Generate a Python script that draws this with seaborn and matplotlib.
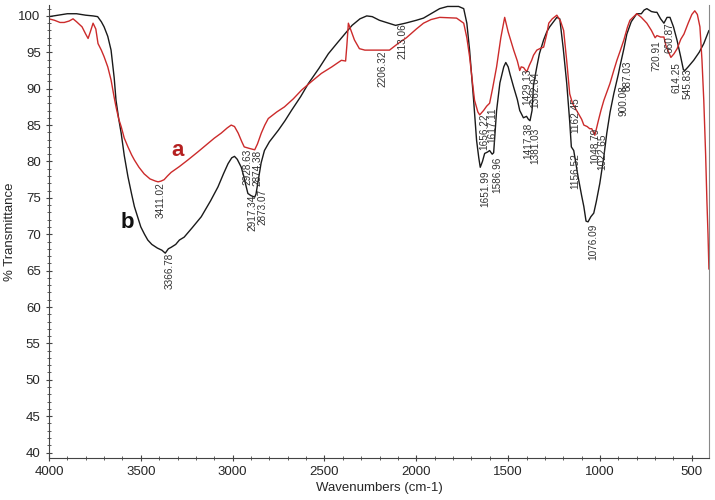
import pandas as pd
import seaborn as sns
import matplotlib.pyplot as plt
from matplotlib.ticker import MultipleLocator

# Curve b (black) - wavenumber / %T
wn_b = [4000, 3950, 3900, 3850, 3800, 3760, 3735, 3715, 3700, 3680, 3662, 3645, 3635, 3620,
        3607, 3590, 3570, 3550, 3535, 3515, 3500, 3480, 3462, 3440, 3410, 3385, 3367, 3350,
        3335, 3310, 3290, 3264, 3220, 3171, 3120, 3080, 3050, 3025, 3005, 2990, 2975, 2953,
        2940, 2926, 2917, 2900, 2880, 2873, 2860, 2845, 2827, 2800, 2751, 2715, 2680, 2630,
        2588, 2530, 2479, 2430, 2390, 2350, 2307, 2270, 2240, 2201, 2150, 2113, 2060, 2000,
        1961, 1920, 1873, 1830, 1797, 1770, 1742, 1725, 1710, 1698, 1688, 1672, 1660, 1652,
        1640, 1628, 1612, 1601, 1587, 1579, 1563, 1545, 1524, 1513, 1500, 1490, 1470, 1450,
        1437, 1417, 1400, 1390, 1381, 1370, 1362, 1344, 1330, 1307, 1290, 1274, 1250, 1235,
        1219, 1200, 1181, 1165, 1156, 1143, 1120, 1100, 1088, 1076, 1065, 1050, 1034, 1020,
        1001, 980, 963, 945, 925, 900, 892, 870, 854, 830, 800, 775, 760, 745, 720, 700,
        690, 670, 652, 635, 619, 600, 581, 560, 546, 538, 520, 490, 460, 435, 407]
t_b = [99.9, 100.1, 100.3, 100.3, 100.1, 100.0, 99.9, 99.2, 98.5, 97.2, 95.3, 91.5, 88.4, 85.8,
       83.9, 80.8, 77.9, 75.5, 73.8, 72.2, 71.0, 70.0, 69.2, 68.6, 68.1, 67.8, 67.4, 68.0,
       68.2, 68.6, 69.2, 69.6, 70.9, 72.4, 74.6, 76.5, 78.3, 79.7, 80.5, 80.7, 80.3, 79.2,
       78.0, 76.5, 75.6, 75.3, 75.1, 75.5, 77.5, 79.8, 81.5, 82.7, 84.3, 85.6, 87.0, 88.9,
       90.7, 92.8, 94.8, 96.3, 97.5, 98.7, 99.6, 100.0, 99.9, 99.4, 99.0, 98.7, 99.0, 99.4,
       99.7, 100.3, 101.0, 101.3, 101.3, 101.3, 101.0, 99.0, 95.3, 91.5, 88.4, 82.9, 80.5, 79.2,
       80.0, 81.1, 81.3, 81.5, 81.0, 81.2, 87.0, 90.8, 93.0, 93.6, 93.0, 92.0, 90.2, 88.5,
       87.0, 86.0, 86.2, 85.8, 85.6, 87.0, 90.5, 93.0, 94.8, 96.7, 97.8, 98.5, 99.3, 99.8,
       99.6, 95.5, 90.7, 85.5, 82.0, 81.5, 78.0, 75.3, 73.8, 71.8, 71.7, 72.4, 72.9, 74.5,
       77.0, 80.5, 83.9, 86.8, 89.3, 92.0, 93.0, 95.5, 97.5, 99.2, 100.3, 100.3, 100.8, 101.0, 100.6, 100.5,
       100.5, 99.6, 99.0, 99.8, 99.8, 98.5, 96.7, 94.3, 92.6, 92.5, 93.0, 93.9, 95.0, 96.2, 98.0]

# Curve a (red)
wn_a = [4000, 3970, 3940, 3917, 3890, 3869, 3850, 3820, 3800, 3787, 3775, 3760, 3745, 3733,
        3715, 3700, 3680, 3662, 3645, 3635, 3620, 3607, 3590, 3570, 3550, 3535, 3510, 3482,
        3450, 3420, 3406, 3390, 3373, 3355, 3335, 3290, 3244, 3190, 3133, 3100, 3062, 3030,
        3008, 2990, 2970, 2950, 2937, 2910, 2880, 2865, 2844, 2825, 2806, 2760, 2718, 2670,
        2625, 2570, 2517, 2460, 2408, 2385, 2378, 2370, 2360, 2337, 2310, 2280, 2200, 2146,
        2100, 2054, 2000, 1961, 1920, 1873, 1781, 1742, 1725, 1710, 1695, 1683, 1665, 1655,
        1634, 1617, 1601, 1585, 1563, 1540, 1519, 1500, 1470, 1450, 1437, 1429, 1416, 1399,
        1385, 1372, 1362, 1344, 1320, 1307, 1290, 1279, 1260, 1235, 1215, 1198, 1180, 1165,
        1150, 1127, 1100, 1088, 1070, 1056, 1045, 1028, 1010, 995, 979, 946, 925, 908,
        890, 870, 850, 837, 800, 775, 745, 720, 700, 690, 670, 652, 640, 614, 597, 580,
        560, 543, 520, 500, 484, 470, 456, 445, 435, 425, 418, 412, 407]
t_a = [99.6, 99.4, 99.1, 99.1, 99.3, 99.6, 99.2, 98.5, 97.5, 96.9, 97.8, 99.0, 98.2, 96.2,
       95.3, 94.4, 93.0, 91.2, 88.8, 87.5, 85.8, 84.8, 83.2, 82.0, 80.9, 80.2, 79.2, 78.3,
       77.6, 77.3, 77.2, 77.3, 77.5, 78.0, 78.5, 79.3, 80.2, 81.3, 82.5, 83.2, 83.9, 84.6,
       85.0, 84.8, 83.9, 82.7, 82.0, 81.8, 81.6, 82.4, 83.9, 85.0, 85.9, 86.8, 87.5, 88.6,
       89.8, 91.0, 92.1, 93.0, 93.9, 93.8, 96.0, 99.0, 98.3, 96.7, 95.5, 95.3, 95.3, 95.3,
       96.2, 97.0, 98.2, 99.0, 99.5, 99.8, 99.7, 99.0, 97.0, 94.4, 91.0, 88.4, 86.8, 86.4,
       87.0, 87.6, 88.0, 90.0, 93.0, 97.0, 99.8, 97.8, 95.3, 93.8, 92.5, 93.0, 92.9, 92.3,
       93.2, 93.9, 94.6, 95.3, 95.6, 95.7, 97.5, 99.0, 99.6, 100.1, 99.3, 98.0, 93.5, 89.3,
       88.0, 87.0, 85.8, 85.0, 84.8, 84.5, 84.5, 83.6, 85.5, 87.0, 88.4, 90.7, 92.5, 93.9,
       95.2, 96.7, 98.5, 99.4, 100.3, 99.8, 99.0, 98.0, 97.0, 97.3, 97.1, 97.1, 95.8, 94.3, 94.8, 95.5,
       96.8, 97.5, 99.0, 100.2, 100.7, 100.2, 98.5, 94.0, 88.4, 81.0, 74.6, 70.0, 65.2]

# Peak labels: text, wavenumber, %T of label top
peak_text = ['3411.02', '3366.78', '2928.63', '2874.38', '2917.34', '2873.07', '2206.32',
             '2113.06', '1656.22', '1617.11', '1651.99', '1586.96', '1429.13', '1362.04',
             '1417.38', '1381.03', '1162.45', '1156.52', '1076.09', '1048.79', '1022.65',
             '900.08', '887.03', '720.91', '660.87', '614.25', '545.83']
peak_wn = [3390, 3341, 2917, 2866, 2892, 2840, 2182, 2078, 1630, 1585, 1627, 1561, 1395, 1350,
           1392, 1350, 1137, 1137, 1039, 1027, 990, 872, 850, 690, 620, 581, 522]
peak_t = [77.1, 67.4, 81.8, 81.6, 75.4, 76.3, 95.3, 99.0, 86.6, 87.5, 78.8, 80.6, 92.8, 92.3,
          85.3, 84.6, 88.8, 81.1, 71.4, 84.7, 83.9, 90.5, 93.9, 96.7, 99.1, 93.6, 92.8]

df_a = pd.DataFrame({'wn': wn_a, 't': t_a})
df_b = pd.DataFrame({'wn': wn_b, 't': t_b})

sns.set_style('ticks')
plt.rcParams['font.family'] = ['Liberation Sans', 'DejaVu Sans']

fig = plt.figure(figsize=(7.15, 5), dpi=100)
ax = fig.add_axes([0.0685, 0.084, 0.923, 0.906])

sns.lineplot(data=df_b, x='wn', y='t', color='#1a1a1a', linewidth=1.0, ax=ax)
sns.lineplot(data=df_a, x='wn', y='t', color='#cc2b2b', linewidth=1.0, ax=ax)

for txt, x, y in zip(peak_text, peak_wn, peak_t):
    ax.text(x, y, txt, rotation=90, ha='center', va='top', fontsize=7.2, color='#333333')

ax.text(3298, 81.5, 'a', color='#b52020', fontsize=16, fontweight='bold', ha='center', va='center')
ax.text(3575, 71.6, 'b', color='#111111', fontsize=16, fontweight='bold', ha='center', va='center')

ax.set_xlim(4000, 407)
ax.set_ylim(39.25, 101.5)
ax.xaxis.set_major_locator(MultipleLocator(500))
ax.xaxis.set_minor_locator(MultipleLocator(100))
ax.yaxis.set_major_locator(MultipleLocator(5))
ax.yaxis.set_minor_locator(MultipleLocator(1))
ax.tick_params(which='major', direction='inout', length=5, width=0.8, labelsize=9.5, color='#444444')
ax.tick_params(which='minor', direction='inout', length=3, width=0.6, color='#444444')

ax.spines['top'].set_visible(False)
for s in ['left', 'bottom']:
    ax.spines[s].set_color('#444444')
ax.spines['right'].set_color('#888888')

ax.set_xlabel('Wavenumbers (cm-1)', fontsize=9.5, labelpad=3)
ax.set_ylabel('% Transmittance', fontsize=9.5, labelpad=2)

plt.savefig('out.png', dpi=100)
